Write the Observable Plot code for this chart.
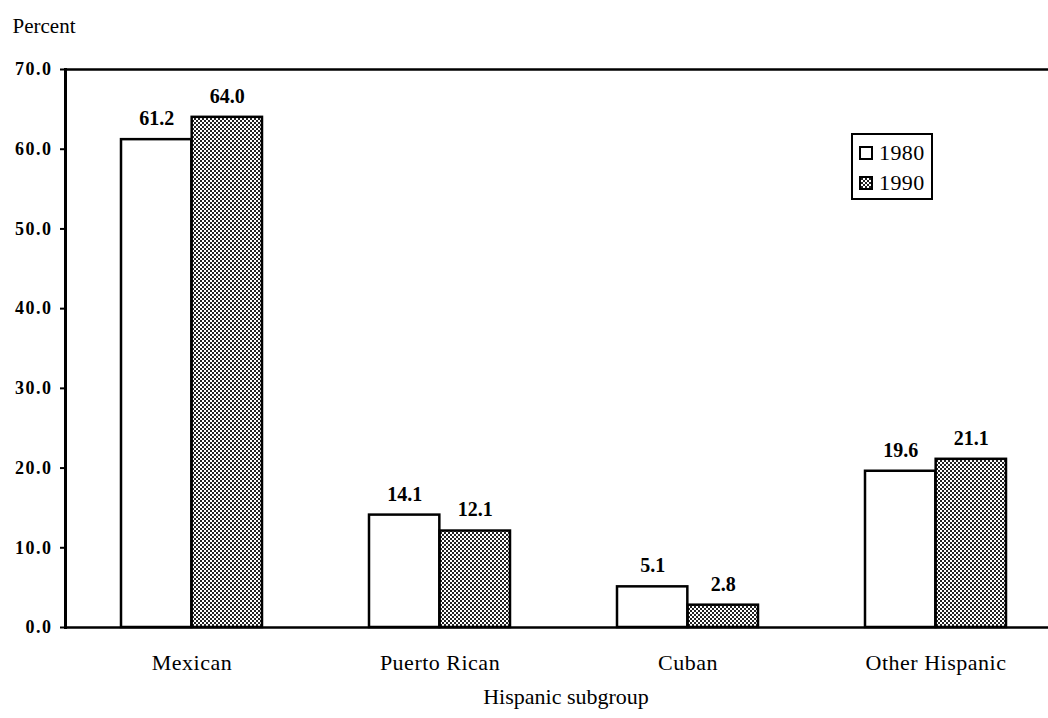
<!DOCTYPE html>
<html><head><meta charset="utf-8">
<script src="https://cdn.jsdelivr.net/npm/d3@7"></script>
<script src="https://cdn.jsdelivr.net/npm/@observablehq/plot@0.6"></script>
<style>
body{margin:0;background:#fff;}
#wrap{position:relative;width:1048px;height:718px;overflow:hidden;}
#legend{position:absolute;left:851px;top:133px;width:78px;height:63px;border:2px solid #000;background:#fff;font-family:"Liberation Serif",serif;font-size:22px;color:#000;letter-spacing:0.4px;}
.row{position:absolute;left:6px;height:22px;display:flex;align-items:center;}
.row svg{margin-right:6px;}
</style></head><body><div id="wrap"></div>
<script>
const categories = ["Mexican", "Puerto Rican", "Cuban", "Other Hispanic"];
const years = ["1980", "1990"];
const values1980 = [61.2, 14.1, 5.1, 19.6];
const values1990 = [64.0, 12.1, 2.8, 21.1];
const yTicks = [0, 10, 20, 30, 40, 50, 60, 70];
const yTitle = "Percent";
const xTitle = "Hispanic subgroup";

const d1980 = categories.map((c, i) => ({cat: c, year: years[0], v: values1980[i]}));
const d1990 = categories.map((c, i) => ({cat: c, year: years[1], v: values1990[i]}));

const serif = "Liberation Serif, Times New Roman, serif";
const bw = 886.5 / (4 - 0.431) * 0.569; // band width
const half = bw / 2;

const defs = () => {
  const g = d3.create("svg:defs");
  const p = g.append("pattern").attr("id", "hatch").attr("patternUnits", "userSpaceOnUse")
    .attr("width", 4).attr("height", 4);
  p.append("rect").attr("width", 4).attr("height", 4).attr("fill", "#fff");
  p.append("rect").attr("x", 0).attr("y", 0).attr("width", 2).attr("height", 2).attr("fill", "#222");
  p.append("rect").attr("x", 2).attr("y", 2).attr("width", 2).attr("height", 2).attr("fill", "#222");
  return g.node();
};

const chart = Plot.plot({
  width: 1048,
  height: 718,
  marginLeft: 65,
  marginRight: 0,
  marginTop: 69,
  marginBottom: 91,
  style: {fontFamily: serif, color: "#000", background: "#fff"},
  x: {type: "band", domain: categories, range: [120.5, 1007], paddingInner: 0.431, paddingOuter: 0, label: null},
  y: {domain: [0, 70], label: null},
  marks: [
    defs,
    Plot.barY(d1980, {x: "cat", y: "v", fill: "#fff", stroke: "#000", strokeWidth: 2.5, insetRight: half}),
    Plot.barY(d1990, {x: "cat", y: "v", fill: "url(#hatch)", stroke: "#000", strokeWidth: 2.5, insetLeft: half}),
    Plot.text(d1980, {x: "cat", y: "v", text: d => d.v.toFixed(1), dx: -half / 2, dy: -21, fontSize: 20, fontWeight: "bold", fontFamily: serif, fill: "#000", letterSpacing: 1.5}),
    Plot.text(d1990, {x: "cat", y: "v", text: d => d.v.toFixed(1), dx: half / 2, dy: -21, fontSize: 20, fontWeight: "bold", fontFamily: serif, fill: "#000", letterSpacing: 1.5}),
    Plot.ruleY([0, 70], {stroke: "#000", strokeWidth: 2.5}),
    Plot.frame({anchor: "left", stroke: "#000", strokeWidth: 3}),
    Plot.axisY({ticks: yTicks, tickFormat: d => d.toFixed(1), tickSize: 5, tickPadding: 8, fontSize: 18, fontWeight: "bold", strokeWidth: 2, label: null}),
    Plot.axisX({tickSize: 0, tickPadding: 27, fontSize: 22, label: null}),
    Plot.text([xTitle], {frameAnchor: "bottom", dx: 9, dy: 76, fontSize: 22, fontFamily: serif, fill: "#000", letterSpacing: 0.5}),
    Plot.text([yTitle], {frameAnchor: "top-left", textAnchor: "start", dx: -53, dy: -51, fontSize: 21, fontFamily: serif, fill: "#000", letterSpacing: 0.5})
  ]
});

d3.select(chart).selectAll('g[aria-label="y-axis tick label"] text')
  .style("font-size", "18px").style("font-weight", "bold").style("letter-spacing", "1.5px");
d3.select(chart).selectAll('g[aria-label="x-axis tick label"] text')
  .style("font-size", "22px").style("letter-spacing", "0.5px");

const wrap = document.getElementById("wrap");
wrap.appendChild(chart);

// legend
const legend = document.createElement("div");
legend.id = "legend";
years.forEach((yr, i) => {
  const row = document.createElement("div");
  row.className = "row";
  row.style.top = (i === 0 ? 7 : 37) + "px";
  const sw = yr === years[0]
    ? `<svg width="14" height="14"><rect x="1" y="1" width="12" height="12" fill="#fff" stroke="#000" stroke-width="2"/></svg>`
    : `<svg width="14" height="14"><defs><pattern id="hatch2" patternUnits="userSpaceOnUse" width="4" height="4"><rect width="4" height="4" fill="#fff"/><rect width="2" height="2" fill="#222"/><rect x="2" y="2" width="2" height="2" fill="#222"/></pattern></defs><rect x="1" y="1" width="12" height="12" fill="url(#hatch2)" stroke="#000" stroke-width="2"/></svg>`;
  row.innerHTML = sw + `<span>${yr}</span>`;
  legend.appendChild(row);
});
wrap.appendChild(legend);
</script>
</body></html>
